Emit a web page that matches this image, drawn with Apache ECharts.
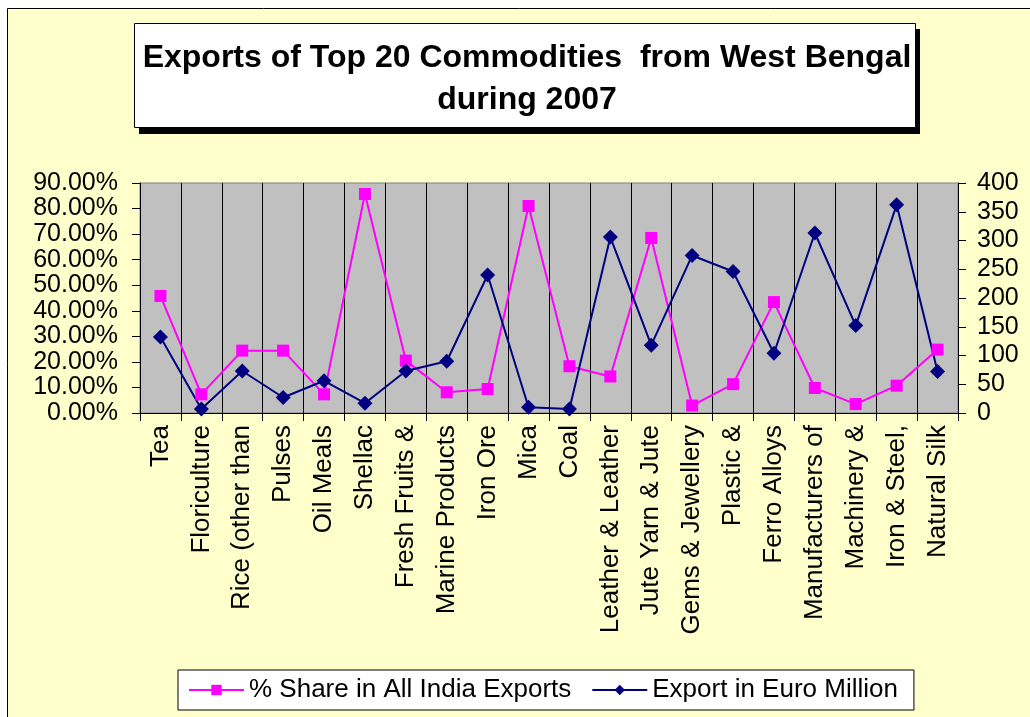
<!DOCTYPE html>
<html>
<head>
<meta charset="utf-8">
<style>
html,body{margin:0;padding:0;background:#fff;}
#chart{width:1030px;height:717px;}
</style>
<script src="https://cdn.jsdelivr.net/npm/echarts@6/dist/echarts.min.js"></script>
</head>
<body>
<div id="chart"></div>
<script>
const categories = ['Tea','Floriculture','Rice (other than','Pulses','Oil Meals','Shellac','Fresh Fruits &','Marine Products','Iron Ore','Mica','Coal','Leather & Leather','Jute Yarn & Jute','Gems & Jewellery','Plastic &','Ferro Alloys','Manufacturers of','Machinery &','Iron & Steel,','Natural Silk'];
const shareValues = [45.8, 7.3, 24.4, 24.4, 7.3, 85.7, 20.5, 8.1, 9.4, 81.0, 18.3, 14.3, 68.5, 2.9, 11.3, 43.4, 9.8, 3.5, 10.7, 24.8];
const exportValues = [132, 7, 73, 27, 56, 17, 73, 90, 240, 10, 7, 306, 118, 274, 246, 104, 313, 152, 362, 72];
const seriesNames = ['% Share in All India Exports', 'Export in Euro Million'];
const titleText = 'Exports of Top 20 Commodities  from West Bengal\nduring 2007';
const leftAxisRange = {min: 0, max: 90, interval: 10};
const rightAxisRange = {min: 0, max: 400, interval: 50};

const font = '"Liberation Sans", Arial, sans-serif';
const chart = echarts.init(document.getElementById('chart'), null, {renderer: 'canvas'});
chart.setOption({
  backgroundColor: '#ffffff',
  animation: false,
  textStyle: {fontFamily: font},
  graphic: [
    {type: 'rect', z: -10, shape: {x: 7.5, y: 8.5, width: 1100, height: 800},
     style: {fill: '#FFFFCC', stroke: '#000', lineWidth: 1}},
    {type: 'rect', z: 5, shape: {x: 139, y: 29, width: 781, height: 105},
     style: {fill: '#000'}},
    {type: 'rect', z: 5, shape: {x: 134.5, y: 23.5, width: 781, height: 104},
     style: {fill: '#fff', stroke: '#000', lineWidth: 1}}
  ],
  title: {
    text: titleText,
    left: 522, top: 32, textAlign: 'center', z: 10,
    textStyle: {fontFamily: font, fontSize: 32, fontWeight: 'bold', color: '#000', lineHeight: 42}
  },
  legend: {
    left: 178, top: 670,
    backgroundColor: '#fff', borderColor: '#000', borderWidth: 1,
    padding: [7, 16, 7, 10], itemGap: 20,
    itemWidth: 55, itemHeight: 13,
    textStyle: {fontFamily: font, fontSize: 26, color: '#000'},
    data: seriesNames
  },
  grid: {
    left: 140, right: 72, top: 183, bottom: 304,
    show: true, backgroundColor: '#C0C0C0', borderColor: '#808080', borderWidth: 1
  },
  xAxis: {
    type: 'category', data: categories, boundaryGap: true,
    axisLine: {show: true, lineStyle: {color: '#000', width: 1}},
    axisTick: {show: true, alignWithLabel: false, length: 8, lineStyle: {color: '#000'}},
    splitLine: {show: true, lineStyle: {color: '#000', width: 1}},
    axisLabel: {interval: 0, rotate: 90, fontSize: 26, color: '#000', margin: 12, fontFamily: font}
  },
  yAxis: [
    {
      type: 'value', position: 'left', min: leftAxisRange.min, max: leftAxisRange.max, interval: leftAxisRange.interval,
      axisLine: {show: true, lineStyle: {color: '#000'}},
      axisTick: {show: true, length: 8, lineStyle: {color: '#000'}},
      splitLine: {show: false},
      axisLabel: {fontSize: 25, color: '#000', margin: 22, fontFamily: font,
        formatter: v => v.toFixed(2) + '%'}
    },
    {
      type: 'value', position: 'right', min: rightAxisRange.min, max: rightAxisRange.max, interval: rightAxisRange.interval,
      axisLine: {show: true, lineStyle: {color: '#000'}},
      axisTick: {show: true, length: 8, lineStyle: {color: '#000'}},
      splitLine: {show: false},
      axisLabel: {fontSize: 25, color: '#000', margin: 19, fontFamily: font}
    }
  ],
  series: [
    {
      name: seriesNames[0], type: 'line', yAxisIndex: 0, data: shareValues,
      symbol: 'rect', symbolSize: 12, color: '#FF00FF',
      lineStyle: {width: 2, color: '#FF00FF'}, itemStyle: {color: '#FF00FF'}
    },
    {
      name: seriesNames[1], type: 'line', yAxisIndex: 1, data: exportValues,
      symbol: 'diamond', symbolSize: 15, color: '#000080',
      lineStyle: {width: 2, color: '#000080'}, itemStyle: {color: '#000080'}
    }
  ]
});
</script>
</body>
</html>
